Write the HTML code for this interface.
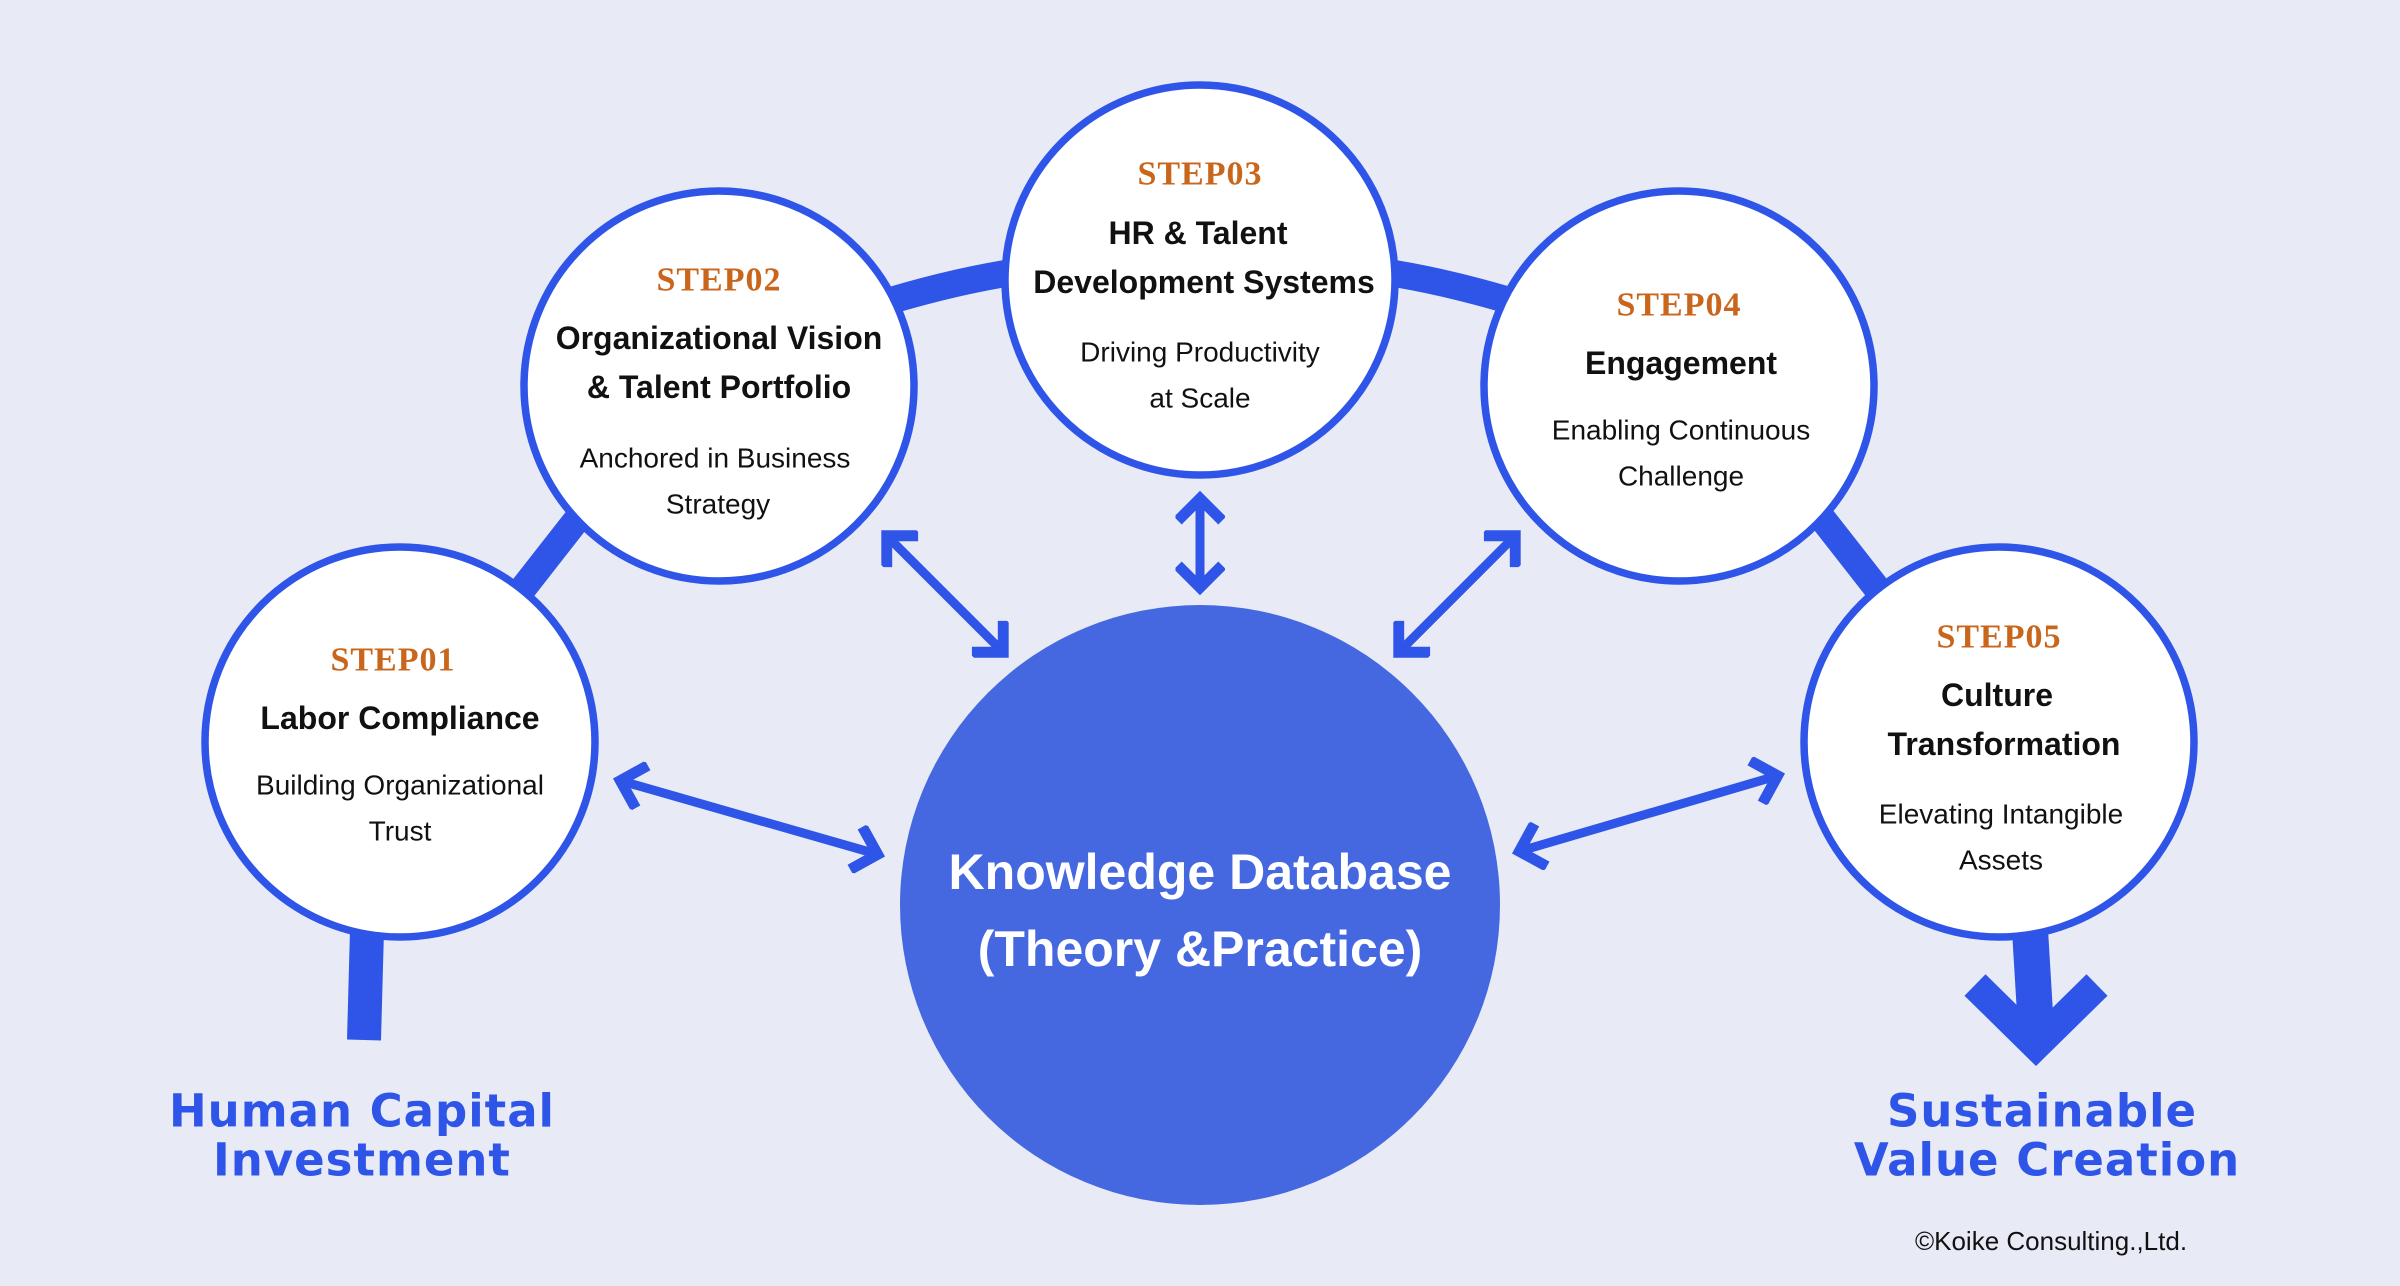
<!DOCTYPE html>
<html><head><meta charset="utf-8"><style>
html,body{margin:0;padding:0;background:#e8ebf6;}
svg{display:block}
.st{font-family:"Liberation Serif",serif;font-weight:bold;fill:#c9661c;font-size:34px;letter-spacing:1px}
.ti{font-family:"Liberation Sans","Noto Sans CJK JP",sans-serif;font-weight:bold;fill:#111;font-size:32px}
.su{font-family:"Liberation Sans","Noto Sans CJK JP",sans-serif;fill:#111;font-size:28px}
.big{font-family:"Liberation Sans","Noto Sans CJK JP",sans-serif;fill:#fff;font-size:50px;font-weight:bold}
.bl{font-family:"DejaVu Sans","Liberation Sans",sans-serif;font-weight:bold;fill:#2f55e8;font-size:45px;letter-spacing:1px}
.cp{font-family:"Liberation Sans",sans-serif;fill:#111;font-size:26px}
</style></head><body>
<svg width="2400" height="1286" viewBox="0 0 2400 1286" xmlns="http://www.w3.org/2000/svg">
<defs>
<marker id="ah" viewBox="0 0 8 10" refX="6" refY="5" markerWidth="4.5" markerHeight="5.5" orient="auto-start-reverse" markerUnits="strokeWidth">
<path d="M1.8,1.3 L5.5,5 L1.8,8.7" fill="none" stroke="#2f55e8" stroke-width="2.2" stroke-linecap="square"/>
</marker>
</defs>
<rect width="2400" height="1286" fill="#e8ebf6"/>
<g stroke="#2f55e8" fill="none" stroke-width="27">
<path d="M510,605 L600,490"/>
<path d="M860,310 Q1000,265 1100,265"/>
<path d="M1300,265 Q1400,265 1540,310"/>
<path d="M1800,490 L1890,605"/>
<path d="M367,930 L364,1040" stroke-width="34"/>
<path d="M2030,930 L2036,1030" stroke-width="36"/>
<path d="M1975,985 L2036,1045 L2097,985" stroke-width="30"/>
</g>
<g stroke="#2f55e8" stroke-width="9" fill="none" marker-start="url(#ah)" marker-end="url(#ah)">
<path d="M618,780 L880,855"/>
<path d="M885,534 L1005,654"/>
<path d="M1200,496 L1200,590"/>
<path d="M1517,534 L1397,654"/>
<path d="M1780,775 L1517,852"/>
</g>
<g fill="#fff" stroke="#2f55e8" stroke-width="7.5">
<circle cx="400" cy="742" r="195"/>
<circle cx="719" cy="386" r="195"/>
<circle cx="1200" cy="280" r="195"/>
<circle cx="1679" cy="386" r="195"/>
<circle cx="1999" cy="742" r="195"/>
</g>
<circle cx="1200" cy="905" r="300" fill="#4568e0"/>
<g text-anchor="middle" dominant-baseline="central">
<text class="st" x="393" y="660">STEP01</text>
<text class="ti" x="400" y="718">Labor Compliance</text>
<text class="su" x="400" y="785">Building Organizational</text>
<text class="su" x="400" y="831">Trust</text>
<text class="st" x="719" y="280">STEP02</text>
<text class="ti" x="719" y="338">Organizational Vision</text>
<text class="ti" x="719" y="387">&amp; Talent Portfolio</text>
<text class="su" x="715" y="458">Anchored in Business</text>
<text class="su" x="718" y="504">Strategy</text>
<text class="st" x="1200" y="174">STEP03</text>
<text class="ti" x="1198" y="233">HR &amp; Talent</text>
<text class="ti" x="1204" y="282">Development Systems</text>
<text class="su" x="1200" y="352">Driving Productivity</text>
<text class="su" x="1200" y="398">at Scale</text>
<text class="st" x="1679" y="305">STEP04</text>
<text class="ti" x="1681" y="363">Engagement</text>
<text class="su" x="1681" y="430">Enabling Continuous</text>
<text class="su" x="1681" y="476">Challenge</text>
<text class="st" x="1999" y="637">STEP05</text>
<text class="ti" x="1997" y="695">Culture</text>
<text class="ti" x="2004" y="744">Transformation</text>
<text class="su" x="2001" y="814">Elevating Intangible</text>
<text class="su" x="2001" y="860">Assets</text>
<text class="big" x="1200" y="872">Knowledge Database</text>
<text class="big" x="1200" y="949">(Theory &amp;Practice)</text>
<text class="bl" x="362" y="1111">Human Capital</text>
<text class="bl" x="362" y="1160">Investment</text>
<text class="bl" x="2042" y="1111">Sustainable</text>
<text class="bl" x="2047" y="1160">Value Creation</text>
<text class="cp" x="2051" y="1241">©Koike Consulting.,Ltd.</text>
</g>
</svg>
</body></html>
